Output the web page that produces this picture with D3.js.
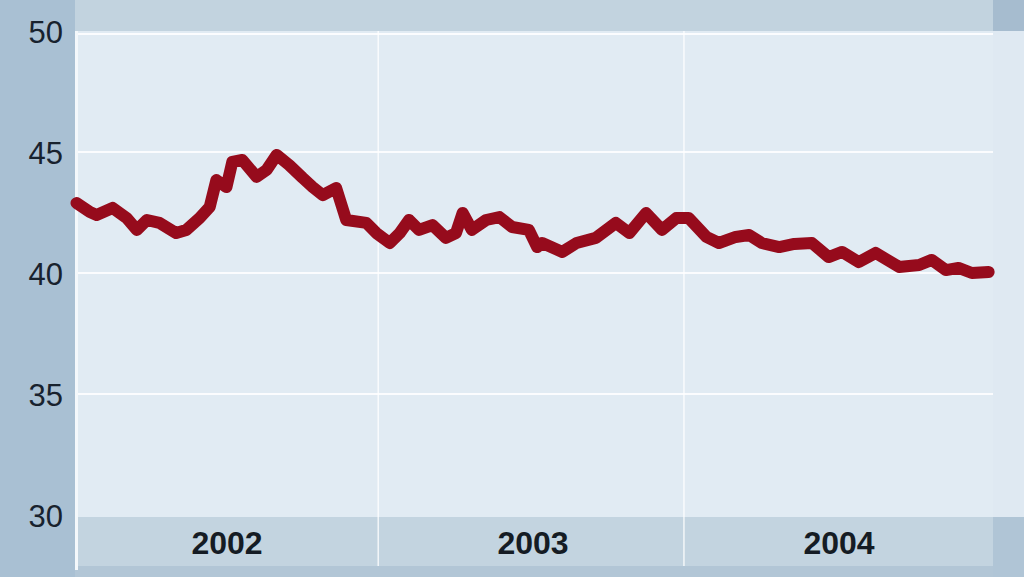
<!DOCTYPE html>
<html>
<head>
<meta charset="utf-8">
<script src="https://cdn.jsdelivr.net/npm/d3@7"></script>
<style>
html,body{margin:0;padding:0;background:#e1ebf3;}
svg{display:block;}
</style>
</head>
<body>
<svg id="chart" width="1024" height="577"></svg>
<script>
// ---- data ----
const dates = [
 "2002-01-04","2002-01-20","2002-01-28","2002-02-16","2002-03-05","2002-03-17","2002-03-29",
 "2002-04-13","2002-05-03","2002-05-15","2002-05-31","2002-06-12","2002-06-20","2002-07-02",
 "2002-07-09","2002-07-21","2002-08-07","2002-08-19","2002-08-31","2002-09-15","2002-10-01",
 "2002-10-13","2002-10-25","2002-11-10","2002-11-22","2002-12-16","2002-12-28",
 "2003-01-13","2003-01-25","2003-02-05","2003-02-17","2003-03-05","2003-03-21","2003-04-02",
 "2003-04-10","2003-04-21","2003-05-08","2003-05-24","2003-06-08","2003-06-28","2003-07-08",
 "2003-07-14","2003-08-07","2003-08-24","2003-09-16","2003-10-10","2003-10-26","2003-11-15",
 "2003-12-04","2003-12-21",
 "2004-01-05","2004-01-26","2004-02-10","2004-03-01","2004-03-17","2004-04-01","2004-04-22",
 "2004-05-10","2004-05-31","2004-06-20","2004-07-06","2004-07-26","2004-08-15","2004-09-12","2004-10-06",
 "2004-10-21","2004-11-07","2004-11-22","2004-12-08","2004-12-28"
];
const values = [
 42.89,42.52,42.40,42.69,42.27,41.78,42.19,
 42.07,41.65,41.78,42.27,42.73,43.84,43.55,
 44.59,44.67,43.97,44.26,44.88,44.46,43.93,
 43.55,43.22,43.51,42.19,42.07,41.65,
 41.24,41.65,42.19,41.78,41.98,41.45,41.65,
 42.48,41.78,42.19,42.31,41.90,41.78,41.07,
 41.24,40.87,41.24,41.45,42.07,41.65,42.48,
 41.78,42.27,
 42.27,41.49,41.24,41.49,41.57,41.24,41.07,
 41.20,41.24,40.66,40.87,40.45,40.83,40.25,40.33,
 40.54,40.12,40.21,40.00,40.04
];
const yTicks = [30, 35, 40, 45, 50];
const yearLabels = ["2002", "2003", "2004"];

// ---- chart ----
const svg = d3.select("#chart");
const W = 1024, H = 577;
const parse = d3.timeParse("%Y-%m-%d");
const data = dates.map((d, i) => ({date: parse(d), value: values[i]}));

const x = d3.scaleTime()
  .domain([new Date(2002, 0, 1), new Date(2005, 0, 1)])
  .range([74, 992]);
const y = d3.scaleLinear().domain([30, 50]).range([515, 31]);

// backgrounds
svg.append("rect").attr("x", 0).attr("y", 0).attr("width", W).attr("height", H).attr("fill", "#e1ebf3");
svg.append("rect").attr("x", 0).attr("y", 0).attr("width", 75).attr("height", H).attr("fill", "#a9c0d3");
svg.append("rect").attr("x", 75).attr("y", 0).attr("width", 918).attr("height", 31).attr("fill", "#c2d3df");
svg.append("rect").attr("x", 993).attr("y", 0).attr("width", 31).attr("height", 31).attr("fill", "#a6bccf");
svg.append("rect").attr("x", 75).attr("y", 517).attr("width", 918).attr("height", 49).attr("fill", "#c3d4e0");
svg.append("rect").attr("x", 993).attr("y", 517).attr("width", 31).attr("height", 60).attr("fill", "#b0c5d6");
svg.append("rect").attr("x", 75).attr("y", 566).attr("width", 918).attr("height", 11).attr("fill", "#b2c6d6");
svg.append("rect").attr("x", 993).attr("y", 31).attr("width", 31).attr("height", 486).attr("fill", "#dfe9f2");

// horizontal gridlines
svg.append("g").selectAll("line").data(yTicks.filter(t => t > 30)).join("line")
  .attr("x1", 75).attr("x2", 993)
  .attr("y1", d => y(d) + (d === 50 ? 3 : 0)).attr("y2", d => y(d) + (d === 50 ? 3 : 0))
  .attr("stroke", "#ffffff").attr("stroke-width", 2).attr("stroke-opacity", 0.85);

// year boundaries
const yearStarts = [new Date(2003, 0, 1), new Date(2004, 0, 1)];
svg.append("g").selectAll("line").data(yearStarts).join("line")
  .attr("x1", d => x(d) - 1.5).attr("x2", d => x(d) - 1.5)
  .attr("y1", 31).attr("y2", 566)
  .attr("stroke", "#ffffff").attr("stroke-width", 1.5).attr("stroke-opacity", 0.8);
svg.append("line").attr("x1", 76.5).attr("x2", 76.5).attr("y1", 31).attr("y2", 570)
  .attr("stroke", "#f4f8fb").attr("stroke-width", 3);

// data line
const line = d3.line().x(d => x(d.date)).y(d => y(d.value)).curve(d3.curveLinear);
svg.append("path").datum(data)
  .attr("d", line)
  .attr("fill", "none")
  .attr("stroke", "#960b1c")
  .attr("stroke-width", 12)
  .attr("stroke-linejoin", "round")
  .attr("stroke-linecap", "round");

// y axis
const yAxis = d3.axisLeft(y).tickValues(yTicks).tickSize(0).tickPadding(0).tickFormat(d3.format("d"));
const gy = svg.append("g").attr("transform", "translate(63,0)").call(yAxis);
gy.select(".domain").remove();
gy.selectAll("text")
  .attr("font-family", "Liberation Sans, Arial, sans-serif")
  .attr("font-size", 31)
  .attr("fill", "#18222e")
  .attr("dy", "0.36em");

// year labels
const xb = d3.scaleBand().domain(yearLabels)
  .range([x(new Date(2002, 0, 1)), x(new Date(2005, 0, 1))]).paddingInner(0).paddingOuter(0);
const xAxis = d3.axisBottom(xb).tickSize(0).tickPadding(0);
const gx = svg.append("g").attr("transform", "translate(0,531)").call(xAxis);
gx.select(".domain").remove();
gx.selectAll("text")
  .attr("font-family", "Liberation Sans, Arial, sans-serif")
  .attr("font-size", 32)
  .attr("font-weight", "bold")
  .attr("fill", "#151c24")
  .attr("dy", "0.72em");
</script>
</body>
</html>
